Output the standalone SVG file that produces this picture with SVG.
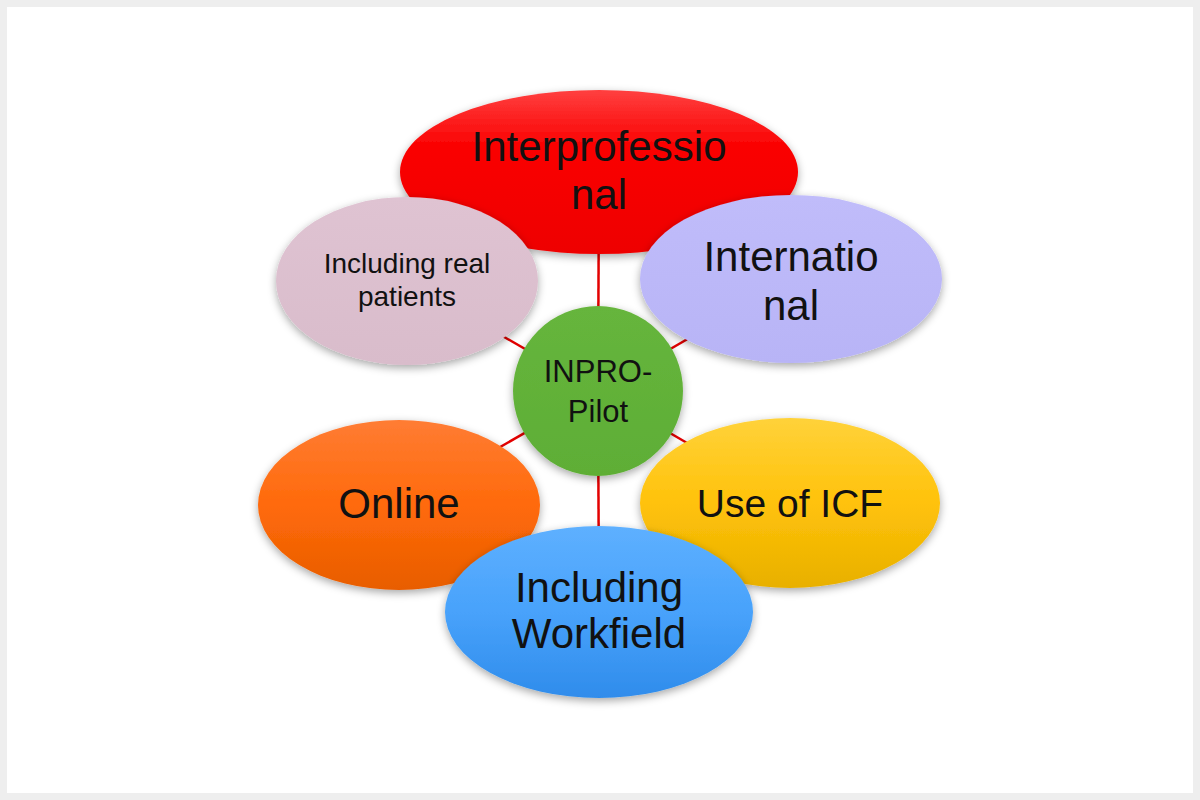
<svg xmlns="http://www.w3.org/2000/svg" width="1200" height="800" viewBox="0 0 1200 800">
<defs>
  <style>
    .lbl{font-family:"Liberation Sans","Open Sans",Arial,sans-serif;fill:#111;text-anchor:middle}
    .big{font-size:42px}
    .mid{font-size:31px}
    .sm{font-size:28px}
    .conn{stroke:#e30000;stroke-width:2.5;fill:none}
  </style>
  <filter id="sh" x="-20%" y="-20%" width="140%" height="150%">
    <feDropShadow dx="0" dy="3" stdDeviation="4" flood-color="#000" flood-opacity="0.35"/>
  </filter>
  <linearGradient id="gRed" x1="0" y1="0" x2="0" y2="1">
    <stop offset="0" stop-color="#ff4040"/><stop offset="0.35" stop-color="#fa0000"/><stop offset="1" stop-color="#ee0000"/>
  </linearGradient>
  <linearGradient id="gPink" x1="0" y1="0" x2="0" y2="1">
    <stop offset="0" stop-color="#dfc3d2"/><stop offset="1" stop-color="#d9bccb"/>
  </linearGradient>
  <linearGradient id="gLav" x1="0" y1="0" x2="0" y2="1">
    <stop offset="0" stop-color="#c0bcfa"/><stop offset="1" stop-color="#b8b4f6"/>
  </linearGradient>
  <linearGradient id="gGreen" x1="0" y1="0" x2="0" y2="1">
    <stop offset="0" stop-color="#66b53c"/><stop offset="1" stop-color="#5eae36"/>
  </linearGradient>
  <linearGradient id="gOrange" x1="0" y1="0" x2="0" y2="1">
    <stop offset="0" stop-color="#ff7c34"/><stop offset="0.5" stop-color="#ff6a0a"/><stop offset="1" stop-color="#e85d00"/>
  </linearGradient>
  <linearGradient id="gYellow" x1="0" y1="0" x2="0" y2="1">
    <stop offset="0" stop-color="#ffd23a"/><stop offset="0.5" stop-color="#ffc20a"/><stop offset="1" stop-color="#e8b000"/>
  </linearGradient>
  <linearGradient id="gBlue" x1="0" y1="0" x2="0" y2="1">
    <stop offset="0" stop-color="#5eb0ff"/><stop offset="0.5" stop-color="#48a2fb"/><stop offset="1" stop-color="#2f8ceb"/>
  </linearGradient>
</defs>
<rect x="0" y="0" width="1200" height="800" fill="#eeeeee"/>
<rect x="7" y="7" width="1186" height="786" fill="#ffffff"/>

<g id="connectors">
  <line class="conn" x1="598" y1="391" x2="599" y2="172"/>
  <line class="conn" x1="598" y1="391" x2="407" y2="281"/>
  <line class="conn" x1="598" y1="391" x2="791" y2="279"/>
  <line class="conn" x1="598" y1="391" x2="399" y2="505"/>
  <line class="conn" x1="598" y1="391" x2="790" y2="503"/>
  <line class="conn" x1="598" y1="391" x2="599" y2="612"/>
</g>

<g id="node-interprofessional">
  <ellipse cx="599" cy="172" rx="199" ry="82" fill="url(#gRed)" filter="url(#sh)"/>
  <text class="lbl big" x="599" y="161" textLength="255">Interprofessio</text>
  <text class="lbl big" x="599" y="209">nal</text>
</g>
<g id="node-real-patients">
  <ellipse cx="407" cy="281" rx="131" ry="84" fill="url(#gPink)" filter="url(#sh)"/>
  <text class="lbl sm" x="407" y="273">Including real</text>
  <text class="lbl sm" x="407" y="306">patients</text>
</g>
<g id="node-international">
  <ellipse cx="791" cy="279" rx="151" ry="84" fill="url(#gLav)" filter="url(#sh)"/>
  <text class="lbl big" x="791" y="271">Internatio</text>
  <text class="lbl big" x="791" y="320">nal</text>
</g>
<g id="node-inpro-pilot">
  <circle cx="598" cy="391" r="85" fill="url(#gGreen)" filter="url(#sh)"/>
  <text class="lbl mid" x="598" y="382">INPRO-</text>
  <text class="lbl mid" x="598" y="422">Pilot</text>
</g>
<g id="node-online">
  <ellipse cx="399" cy="505" rx="141" ry="85" fill="url(#gOrange)" filter="url(#sh)"/>
  <text class="lbl big" x="399" y="518">Online</text>
</g>
<g id="node-icf">
  <ellipse cx="790" cy="503" rx="150" ry="85" fill="url(#gYellow)" filter="url(#sh)"/>
  <text class="lbl" x="790" y="517" style="font-size:39px">Use of ICF</text>
</g>
<g id="node-workfield">
  <ellipse cx="599" cy="612" rx="154" ry="86" fill="url(#gBlue)" filter="url(#sh)"/>
  <text class="lbl big" x="599" y="602">Including</text>
  <text class="lbl big" x="599" y="648">Workfield</text>
</g>
</svg>
